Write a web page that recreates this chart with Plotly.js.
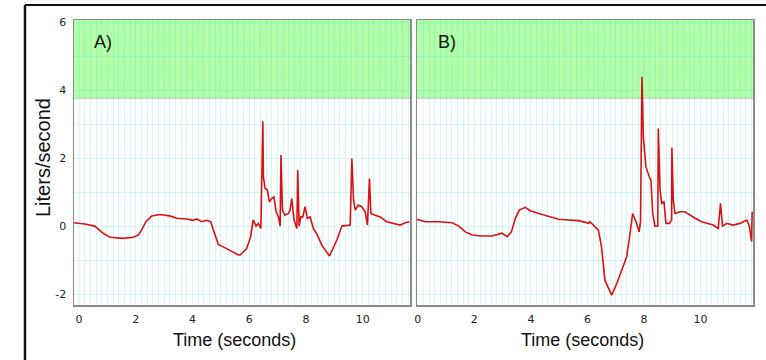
<!DOCTYPE html>
<html>
<head>
<meta charset="utf-8">
<script src="https://cdn.plot.ly/plotly-3.0.1.min.js"></script>
<style>
  html, body { margin: 0; padding: 0; background: #ffffff; }
  #chart { width: 766px; height: 360px; }
</style>
</head>
<body>
<div id="chart"></div>
<script>
// Panel A: time (s) and flow (L/s)
const tA = [-0.18, 0.2, 0.55, 0.85, 1.09, 1.56, 1.91, 2.09, 2.2, 2.36, 2.56, 2.85, 3.2, 3.44, 3.79, 4.03, 4.15, 4.32, 4.5, 4.64, 4.76, 4.91, 5.15, 5.44, 5.62, 5.68, 5.91, 6.05, 6.14, 6.24, 6.32, 6.41, 6.44, 6.48, 6.5, 6.56, 6.64, 6.71, 6.79, 6.87, 6.95, 7.03, 7.09, 7.12, 7.17, 7.26, 7.38, 7.44, 7.5, 7.58, 7.68, 7.71, 7.76, 7.82, 7.89, 7.97, 8.05, 8.15, 8.26, 8.4, 8.56, 8.74, 8.83, 9.09, 9.27, 9.56, 9.62, 9.68, 9.74, 9.85, 9.97, 10.09, 10.17, 10.24, 10.29, 10.44, 10.62, 10.85, 11.09, 11.32, 11.5, 11.65];
const vA = [0.10, 0.06, 0.0, -0.21, -0.33, -0.36, -0.33, -0.26, -0.12, 0.13, 0.30, 0.34, 0.30, 0.23, 0.21, 0.17, 0.21, 0.13, 0.17, 0.13, -0.17, -0.54, -0.64, -0.76, -0.85, -0.85, -0.66, -0.31, 0.18, 0.0, 0.08, -0.07, 2.04, 3.08, 1.45, 1.11, 1.06, 0.71, 0.81, 0.86, 0.42, 0.27, 0.0, 2.09, 0.47, 0.32, 0.37, 0.47, 0.81, 0.18, -0.07, 1.65, 0.0, 0.27, 0.27, 0.57, 0.23, 0.27, -0.07, -0.26, -0.56, -0.75, -0.88, -0.41, 0.0, 0.03, 1.99, 0.76, 0.47, 0.62, 0.57, 0.42, 0.03, 1.40, 0.37, 0.32, 0.27, 0.13, 0.08, 0.03, 0.10, 0.13];

// Panel B: time (s) and flow (L/s)
const tB = [-0.03, 0.27, 0.74, 1.21, 1.45, 1.68, 1.92, 2.27, 2.62, 2.86, 2.98, 3.16, 3.31, 3.45, 3.59, 3.8, 3.98, 4.28, 4.63, 4.98, 5.34, 5.69, 6.05, 6.09, 6.39, 6.5, 6.62, 6.8, 6.86, 7.04, 7.21, 7.39, 7.51, 7.6, 7.72, 7.83, 7.88, 7.93, 7.98, 8.07, 8.19, 8.25, 8.31, 8.39, 8.49, 8.51, 8.57, 8.63, 8.71, 8.78, 8.9, 8.98, 8.99, 9.04, 9.1, 9.28, 9.45, 9.63, 9.81, 10.04, 10.28, 10.45, 10.63, 10.71, 10.78, 10.93, 11.16, 11.4, 11.64, 11.73, 11.81, 11.83];
const vB = [0.20, 0.13, 0.13, 0.10, 0.0, -0.17, -0.26, -0.29, -0.29, -0.24, -0.21, -0.31, -0.17, 0.23, 0.47, 0.55, 0.45, 0.37, 0.29, 0.20, 0.18, 0.16, 0.08, 0.13, -0.12, -0.61, -1.59, -1.93, -2.03, -1.69, -1.29, -0.90, -0.21, 0.37, 0.13, -0.17, 0.13, 4.39, 2.63, 1.74, 1.45, 1.35, 0.37, 0.0, 0.0, 2.87, 1.06, 0.67, 0.71, 0.08, 0.08, 0.18, 2.31, 0.76, 0.37, 0.42, 0.42, 0.32, 0.23, 0.13, 0.08, 0.03, -0.07, 0.67, 0.0, 0.08, 0.03, 0.08, 0.18, 0.0, -0.46, 0.42];

// Labelled ticks
const xTickLabels = ['0', '2', '4', '6', '8', '10'];
const yTickLabels = ['-2', '0', '2', '4', '6'];
const panelLabels = ['A)', 'B)'];
const xTitle = 'Time (seconds)';
const yTitle = 'Liters/second';

const W = 766, H = 360;
const px = x => x / W;
const py = y => 1 - y / H;

// grid positions: every 0.2 s on x, every 1 L/s on y; labels only at listed ticks
const xGridVals = [], xGridText = [];
for (let k = 0; k <= 60; k++) {
  const v = Math.round(k * 2) / 10;
  xGridVals.push(v);
  const lbl = xTickLabels.find(s => Number(s) === v);
  xGridText.push(lbl !== undefined ? lbl : '');
}
const yGridVals = [], yGridText = [];
for (let v = -2; v <= 6; v++) {
  yGridVals.push(v);
  const lbl = yTickLabels.find(s => Number(s) === v);
  yGridText.push(lbl !== undefined ? lbl : '');
}

const lineStyle = { color: '#dd1010', width: 1.6 };
const data = [
  { x: tA, y: vA, type: 'scatter', mode: 'lines', line: lineStyle, xaxis: 'x', yaxis: 'y', hoverinfo: 'skip' },
  { x: tB, y: vB, type: 'scatter', mode: 'lines', line: lineStyle, xaxis: 'x2', yaxis: 'y2', hoverinfo: 'skip' }
];

const gridC = 'rgba(0,215,215,0.17)';
const tickFont = { family: 'DejaVu Sans, Arial, sans-serif', size: 11, color: '#222' };
function xax(domain, range) {
  return {
    domain: domain, range: range, tickmode: 'array', tickvals: xGridVals, ticktext: xGridText,
    showgrid: true, gridcolor: gridC, gridwidth: 1,
    showline: true, linecolor: '#8a8a8a', linewidth: 1.5, mirror: true,
    ticks: '', zeroline: false, tickfont: tickFont, ticklabelstandoff: 3
  };
}
function yax(anchor, showLabels) {
  return {
    domain: [py(305), py(20)], range: [-2.32, 6.06], anchor: anchor,
    tickmode: 'array', tickvals: yGridVals, ticktext: yGridText, showticklabels: showLabels,
    showgrid: true, gridcolor: gridC, gridwidth: 1,
    showline: true, linecolor: '#8a8a8a', linewidth: 1.5, mirror: true,
    ticks: '', zeroline: false, tickfont: tickFont, ticklabelstandoff: 4
  };
}

const greenFill = '#b3fea9';
const layout = {
  width: W, height: H,
  margin: { l: 0, r: 0, t: 0, b: 0 },
  paper_bgcolor: '#ffffff', plot_bgcolor: '#ffffff',
  showlegend: false,
  xaxis: xax([px(74), px(410)], [-0.18, 11.67]),
  yaxis: yax('x', true),
  xaxis2: xax([px(417), px(753)], [-0.03, 11.86]),
  yaxis2: yax('x2', false),
  shapes: [
    { type: 'rect', xref: 'x domain', yref: 'y', x0: 0, x1: 1, y0: 3.76, y1: 6.06, fillcolor: greenFill, line: { width: 0 }, layer: 'below' },
    { type: 'rect', xref: 'x2 domain', yref: 'y2', x0: 0, x1: 1, y0: 3.76, y1: 6.06, fillcolor: greenFill, line: { width: 0 }, layer: 'below' },
    { type: 'line', xref: 'x domain', yref: 'y', x0: 0, x1: 1, y0: 3.76, y1: 3.76, line: { color: '#c4c4c4', width: 1 }, layer: 'below' },
    { type: 'line', xref: 'x2 domain', yref: 'y2', x0: 0, x1: 1, y0: 3.76, y1: 3.76, line: { color: '#c4c4c4', width: 1 }, layer: 'below' },
    { type: 'line', xref: 'paper', yref: 'paper', x0: px(25), x1: 1.01, y0: py(5), y1: py(5), line: { color: '#111', width: 2 } },
    { type: 'line', xref: 'paper', yref: 'paper', x0: px(25), x1: px(25), y0: py(5), y1: -0.01, line: { color: '#111', width: 2.5 } }
  ],
  annotations: [
    { text: panelLabels[0], xref: 'paper', yref: 'paper', x: px(103), y: py(42), showarrow: false, xanchor: 'center', yanchor: 'middle', font: { family: 'Arial, Liberation Sans, sans-serif', size: 18, color: '#111' } },
    { text: panelLabels[1], xref: 'paper', yref: 'paper', x: px(447), y: py(42), showarrow: false, xanchor: 'center', yanchor: 'middle', font: { family: 'Arial, Liberation Sans, sans-serif', size: 18, color: '#111' } },
    { text: xTitle, xref: 'paper', yref: 'paper', x: px(235), y: py(340), showarrow: false, xanchor: 'center', yanchor: 'middle', font: { family: 'Arial, Liberation Sans, sans-serif', size: 18, color: '#111' } },
    { text: xTitle, xref: 'paper', yref: 'paper', x: px(582), y: py(340), showarrow: false, xanchor: 'center', yanchor: 'middle', font: { family: 'Arial, Liberation Sans, sans-serif', size: 18, color: '#111' } },
    { text: yTitle, xref: 'paper', yref: 'paper', x: px(43), y: py(158), showarrow: false, textangle: -90, xanchor: 'center', yanchor: 'middle', font: { family: 'Arial, Liberation Sans, sans-serif', size: 20, color: '#111' } }
  ]
};

Plotly.newPlot('chart', data, layout, { staticPlot: true, displayModeBar: false });
</script>
</body>
</html>
